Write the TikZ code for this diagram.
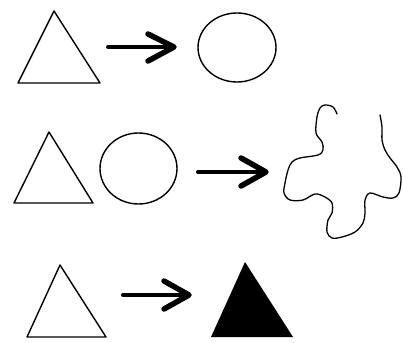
\documentclass[tikz,border=0pt]{standalone}
\begin{document}
\begin{tikzpicture}[x=1pt,y=-1pt,
  shape line/.style={draw=black,line width=1.4pt,line join=round},
  bigarrow/.style={line width=4pt,line cap=round},
  chevron/.style={line width=5.5pt,line cap=round,line join=round}]
\useasboundingbox (0,0) rectangle (403,342);
% row 1
\draw[shape line] (54,11) -- (100,83) -- (18,83) -- cycle;
\draw[shape line] (237,47.5) ellipse [x radius=39, y radius=34.5];
\coordinate (a1s) at (108,47);
\coordinate (a1e) at (173,47);
\draw[bigarrow] (a1s) -- (a1e);
\draw[chevron] (148,34) -- (174,47) -- (148,61);
% row 2
\draw[shape line] (49,132) -- (93,203) -- (14,203) -- cycle;
\draw[shape line] (138.5,168.5) ellipse [x radius=38.5, y radius=35.5];
\coordinate (a2s) at (198,172);
\coordinate (a2e) at (265,172);
\draw[bigarrow] (a2s) -- (a2e);
\draw[chevron] (241,158) -- (266,172) -- (241,186);
\draw[line width=1.3pt,line cap=round,line join=round] plot[smooth,tension=0.55] coordinates {
 (337,114) (333,107) (325,105) (320,108) (317,117) (316,133) (322,142) (323,150)
 (318,155) (300,158) (292,162) (288,170) (285,183) (284,193) (290,200) (303,200)
 (315,194) (325,197) (332,203) (332,213) (328,220) (327,232) (332,238) (342,237)
 (355,232) (363,223) (365,213) (365,200) (370,193) (383,197) (393,198) (399,193)
 (401,177) (397,167) (390,158) (385,150) (382,140) (382,127) (380,115)};
% row 3
\draw[shape line] (60,265) -- (106,337) -- (27,337) -- cycle;
\coordinate (a3s) at (123,295);
\coordinate (a3e) at (188,295);
\draw[bigarrow] (a3s) -- (a3e);
\draw[chevron] (164,281) -- (189,295) -- (164,309);
\fill[black] (245,262) -- (293,337) -- (211,337) -- cycle;
\end{tikzpicture}
\end{document}
